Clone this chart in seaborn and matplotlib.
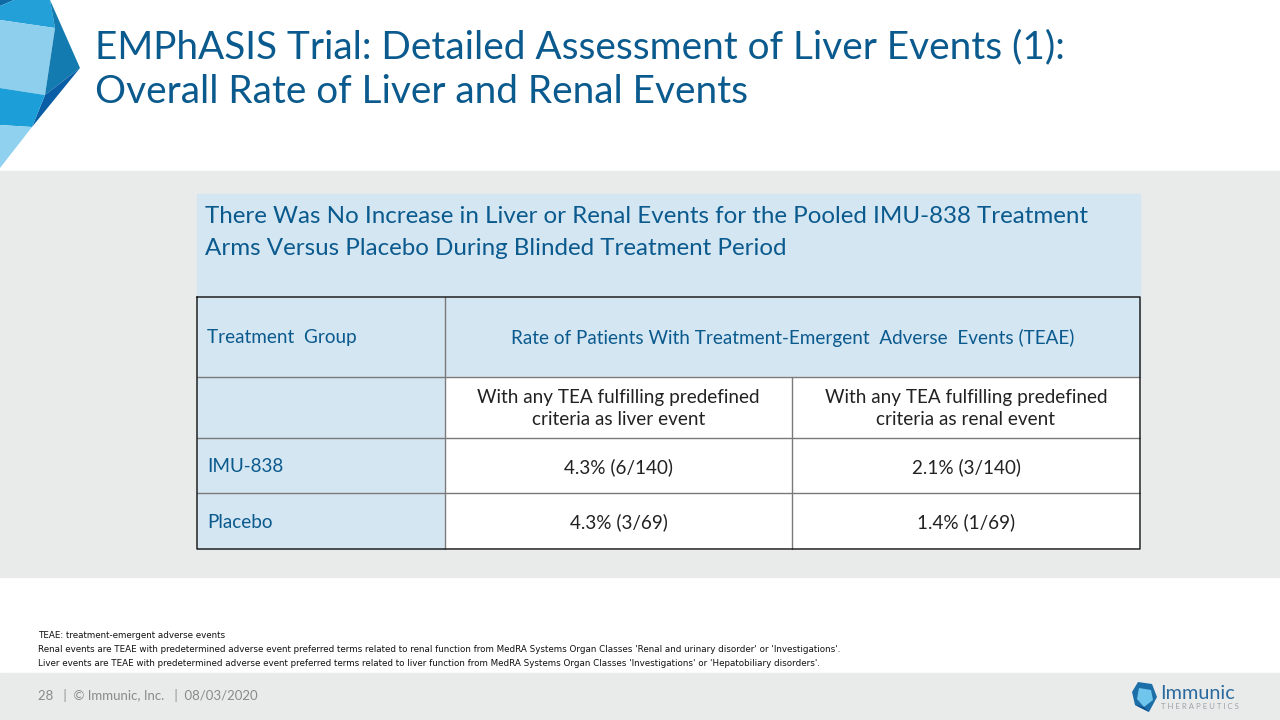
import matplotlib.pyplot as plt
import seaborn as sns
from matplotlib.patches import Rectangle, Polygon

sns.set_theme(style="white")
plt.rcParams['font.family'] = ['Lato', 'DejaVu Sans']

# Slide text
title_lines = ["EMPhASIS Trial: Detailed Assessment of Liver Events (1):",
               "Overall Rate of Liver and Renal Events"]
subtitle_lines = ["There Was No Increase in Liver or Renal Events for the Pooled IMU-838 Treatment",
                  "Arms Versus Placebo During Blinded Treatment Period"]

# Table data
group_header = "Treatment  Group"
rate_header = "Rate of Patients With Treatment-Emergent  Adverse  Events (TEAE)"
event_columns = ["With any TEA fulfilling predefined\ncriteria as liver event",
                 "With any TEA fulfilling predefined\ncriteria as renal event"]
groups = ["IMU-838", "Placebo"]
liver_rates = ["4.3% (6/140)", "4.3% (3/69)"]
renal_rates = ["2.1% (3/140)", "1.4% (1/69)"]

footnotes = [
    "TEAE: treatment-emergent adverse events",
    "Renal events are TEAE with predetermined adverse event preferred terms related to renal function from MedRA Systems Organ Classes 'Renal and urinary disorder' or 'Investigations'.",
    "Liver events are TEAE with predetermined adverse event preferred terms related to liver function from MedRA Systems Organ Classes 'Investigations' or 'Hepatobiliary disorders'.",
]
footer = "28   |  \u00a9 Immunic, Inc.   |  08/03/2020"

# Colours
dark_blue = "#0b5a8e"
light_blue = "#d4e6f2"
band_grey = "#e9ebea"
line_grey = "#7a7a7a"

fig = plt.figure(figsize=(12.8, 7.2), dpi=100)
ax = fig.add_axes([0, 0, 1, 1])
ax.set_xlim(0, 1280)
ax.set_ylim(720, 0)
ax.axis('off')

# background bands
ax.add_patch(Rectangle((0, 171), 1280, 406, color=band_grey, zorder=0))
ax.add_patch(Rectangle((0, 673), 1280, 47, color=band_grey, zorder=0))

# top-left logo facets
logo = [
    ([(0, 0), (14, 0), (0, 6)], "#0f6aa6"),
    ([(14, 0), (50, 0), (55, 28), (0, 20), (0, 6)], "#23a0d8"),
    ([(0, 20), (55, 28), (45, 95), (0, 88)], "#8dcfec"),
    ([(50, 0), (80, 68), (45, 95), (55, 28)], "#137bb0"),
    ([(80, 68), (45, 95), (32, 127)], "#0a5ea6"),
    ([(0, 88), (45, 95), (32, 127), (0, 125)], "#1c9fd8"),
    ([(0, 125), (32, 127), (0, 168)], "#8fd1ee"),
]
for pts, c in logo:
    ax.add_patch(Polygon(pts, closed=True, color=c, lw=0, zorder=1))

# title
for i, line in enumerate(title_lines):
    ax.text(95, 58 + 45 * i, line, fontsize=27.9, color=dark_blue, va='baseline', ha='left')

# table geometry
x0, x1, x2, x3 = 197, 445, 792, 1140
ys = [297, 377, 438, 493, 549]

ax.add_patch(Rectangle((x0, 194), x3 - x0, ys[0] - 194, color=light_blue, zorder=1))
ax.add_patch(Rectangle((x0, ys[0]), x3 - x0, ys[1] - ys[0], color=light_blue, zorder=1))
ax.add_patch(Rectangle((x0, ys[1]), x1 - x0, ys[4] - ys[1], color=light_blue, zorder=1))
ax.add_patch(Rectangle((x1, ys[1]), x3 - x1, ys[4] - ys[1], color="white", zorder=1))

for i, line in enumerate(subtitle_lines):
    ax.text(205, 223 + 32 * i, line, fontsize=17.4, color=dark_blue, va='baseline', ha='left')

# grid lines
for y in ys[1:4]:
    ax.plot([x0, x3], [y, y], color=line_grey, lw=1, zorder=2)
ax.plot([x1, x1], [ys[0], ys[4]], color=line_grey, lw=1, zorder=2)
ax.plot([x2, x2], [ys[1], ys[4]], color=line_grey, lw=1, zorder=2)
ax.plot([x0, x3, x3, x0, x0], [ys[0], ys[0], ys[4], ys[4], ys[0]], color="#222222", lw=1.1, zorder=3)

cell_fs = 13.6
ax.text(207, (ys[0] + ys[1]) / 2 + 1, group_header, fontsize=cell_fs, color=dark_blue, va='center', ha='left')
ax.text((x1 + x3) / 2, (ys[0] + ys[1]) / 2 + 1, rate_header, fontsize=cell_fs, color=dark_blue,
        va='center', ha='center')
for xa, xb, lab in zip([x1, x2], [x2, x3], event_columns):
    ax.text((xa + xb) / 2, (ys[1] + ys[2]) / 2 + 1, lab, fontsize=cell_fs, color="#222222",
            va='center', ha='center', linespacing=1.4)
for r, (g, lv, rn) in enumerate(zip(groups, liver_rates, renal_rates)):
    yc = (ys[2 + r] + ys[3 + r]) / 2 + 1.5
    ax.text(207, yc, g, fontsize=cell_fs, color=dark_blue, va='center', ha='left')
    ax.text((x1 + x2) / 2, yc, lv, fontsize=cell_fs, color="#222222", va='center', ha='center')
    ax.text((x2 + x3) / 2, yc, rn, fontsize=cell_fs, color="#222222", va='center', ha='center')

# footnotes
for i, line in enumerate(footnotes):
    ax.text(38, 636 + 13.5 * i, line, fontsize=6.3, color="#111111", va='center', ha='left',
            family=['Liberation Sans Narrow', 'DejaVu Sans'])

ax.text(38, 696, footer, fontsize=9.5, color="#8a8a8a", va='center', ha='left')

# bottom-right logo
icon = [
    ([(1138, 682), (1152, 684), (1157, 697), (1149, 712), (1135, 705), (1132, 692)], "#1c6ea8"),
    ([(1139, 688), (1151, 690), (1153, 700), (1144, 707), (1137, 699)], "#6fc6ec"),
    ([(1144, 707), (1149, 712), (1135, 705)], "#0b4f8a"),
]
for pts, c in icon:
    ax.add_patch(Polygon(pts, closed=True, color=c, lw=0, zorder=2))
ax.text(1160, 699, "Immunic", fontsize=14.3, color="#2a6a9e", va='baseline', ha='left')
ax.text(1161, 709, "T H E R A P E U T I C S", fontsize=5.6, color="#9aa3a8", va='baseline', ha='left')

fig.savefig("out.png", dpi=100)
